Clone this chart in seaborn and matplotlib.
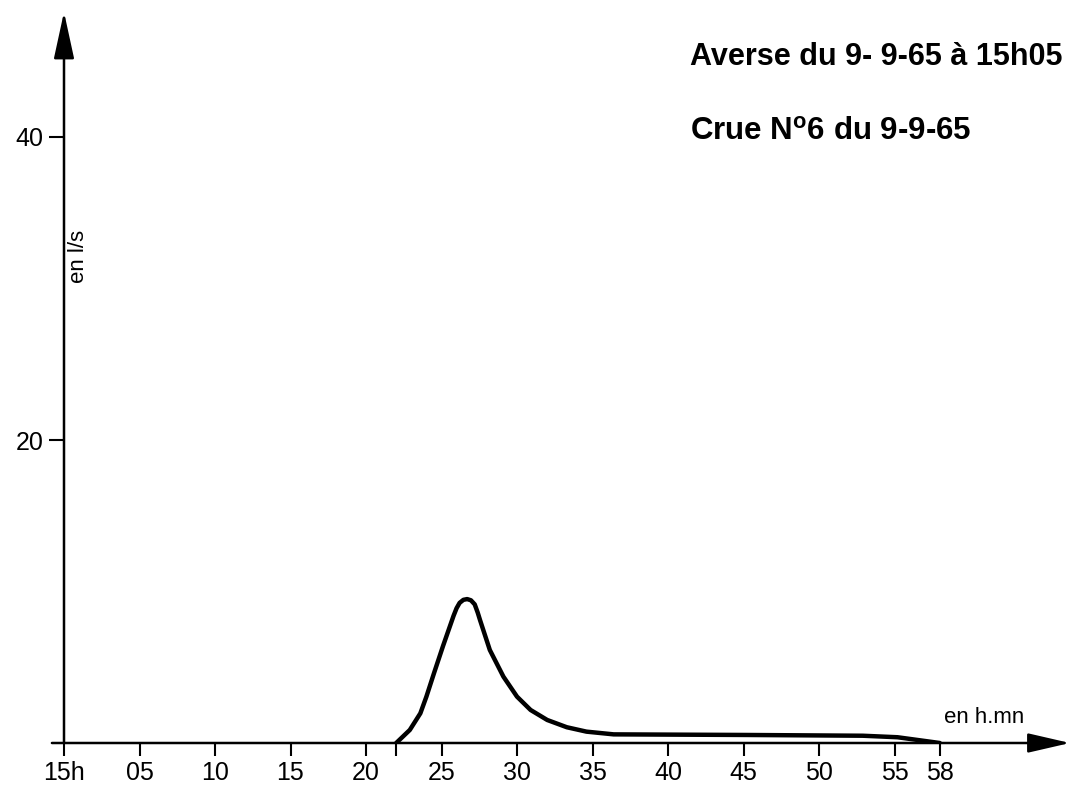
import matplotlib
matplotlib.use("Agg")
import matplotlib.pyplot as plt
from matplotlib.patches import FancyArrowPatch, ArrowStyle
import seaborn as sns
import pandas as pd

sns.set_theme(style="white")
plt.rcParams["font.family"] = ["Liberation Sans", "DejaVu Sans"]
plt.rcParams["text.color"] = "black"
plt.rcParams["mathtext.fontset"] = "custom"
plt.rcParams["mathtext.rm"] = "Liberation Sans:bold"
plt.rcParams["mathtext.bf"] = "Liberation Sans:bold"

# Hydrograph of flood no. 6 (minutes after 15h, discharge in l/s)
minutes = [22.0, 22.9, 23.6, 24.0, 24.5, 25.1, 25.8, 26.0, 26.2, 26.45, 26.7,
           26.95, 27.2, 27.4, 27.55, 28.2, 29.1, 30.0, 30.9, 32.0, 33.3, 34.6,
           36.4, 45.2, 52.9, 55.2, 58.0]
discharge = [0.0, 0.86, 1.96, 3.06, 4.6, 6.4, 8.4, 8.9, 9.25, 9.45, 9.5,
             9.42, 9.15, 8.6, 8.12, 6.14, 4.38, 3.06, 2.18, 1.52, 1.04, 0.75,
             0.57, 0.53, 0.48, 0.38, 0.0]

x_ticks = [0, 5, 10, 15, 20, 25, 30, 35, 40, 45, 50, 55, 58]
x_tick_labels = ["15h", "05", "10", "15", "20", "25", "30", "35", "40",
                 "45", "50", "55", "58"]
y_ticks = [20, 40]
y_tick_labels = ["20", "40"]

W, H = 1068, 795
fig = plt.figure(figsize=(W / 100, H / 100), dpi=100)
x0_px, y0_px = 64, 743          # origin of the axes in pixels (from top-left)
px_per_min, px_per_unit = 15.1, 15.15
ax = fig.add_axes([x0_px / W, (H - y0_px) / H, (W - x0_px) / W, y0_px / H])
ax.set_xlim(0, (W - x0_px) / px_per_min)
ax.set_ylim(0, y0_px / px_per_unit)
ax.patch.set_alpha(0)
for s in ax.spines.values():
    s.set_visible(False)

df = pd.DataFrame({"t": minutes, "q": discharge})
sns.lineplot(data=df, x="t", y="q", ax=ax, color="black", lw=3.2,
             sort=False, solid_capstyle="round", solid_joinstyle="round")

# Axes drawn as arrows
arrow_y = FancyArrowPatch((0, 0), (0, (y0_px - 12) / px_per_unit),
                          arrowstyle=ArrowStyle("-|>", head_length=29, head_width=6.3),
                          mutation_scale=1, color="black", lw=1.8,
                          shrinkA=0, shrinkB=0, clip_on=False)
arrow_x = FancyArrowPatch((-0.8, 0), ((W + 2 - x0_px) / px_per_min, 0),
                          arrowstyle=ArrowStyle("-|>", head_length=26, head_width=6.0),
                          mutation_scale=1, color="black", lw=1.8,
                          shrinkA=0, shrinkB=0, clip_on=False)
ax.add_patch(arrow_y)
ax.add_patch(arrow_x)

ax.set_xticks(x_ticks)
ax.set_xticklabels(x_tick_labels)
ax.set_xticks([22], minor=True)
ax.set_yticks(y_ticks)
ax.set_yticklabels(y_tick_labels)
ax.tick_params(axis="x", which="both", direction="out", length=9, width=1.5,
               color="black", bottom=True, pad=4, labelsize=18, labelcolor="black")
ax.tick_params(axis="y", which="both", direction="out", length=11, width=1.5,
               color="black", left=True, pad=4, labelsize=18, labelcolor="black")
ax.set_xlabel("")
ax.set_ylabel("")

# Annotations
fig.text(690 / W, 1 - 65 / H, "Averse du 9- 9-65 à 15h05", fontsize=22,
         fontweight="bold", va="baseline", ha="left", color="black")
fig.text(690 / W, 1 - 140 / H, r"Crue N$^{\mathbf{o}}$6 du 9-9-65", fontsize=22.5,
         fontweight="bold", va="baseline", ha="left", color="black")
fig.text(78 / W, 1 - 256 / H, "en l/s", fontsize=16, rotation=90,
         va="center", ha="center", color="black")
fig.text(984 / W, 1 - 723 / H, "en h.mn", fontsize=16, va="baseline",
         ha="center", color="black")

fig.savefig("out.png", dpi=100)
